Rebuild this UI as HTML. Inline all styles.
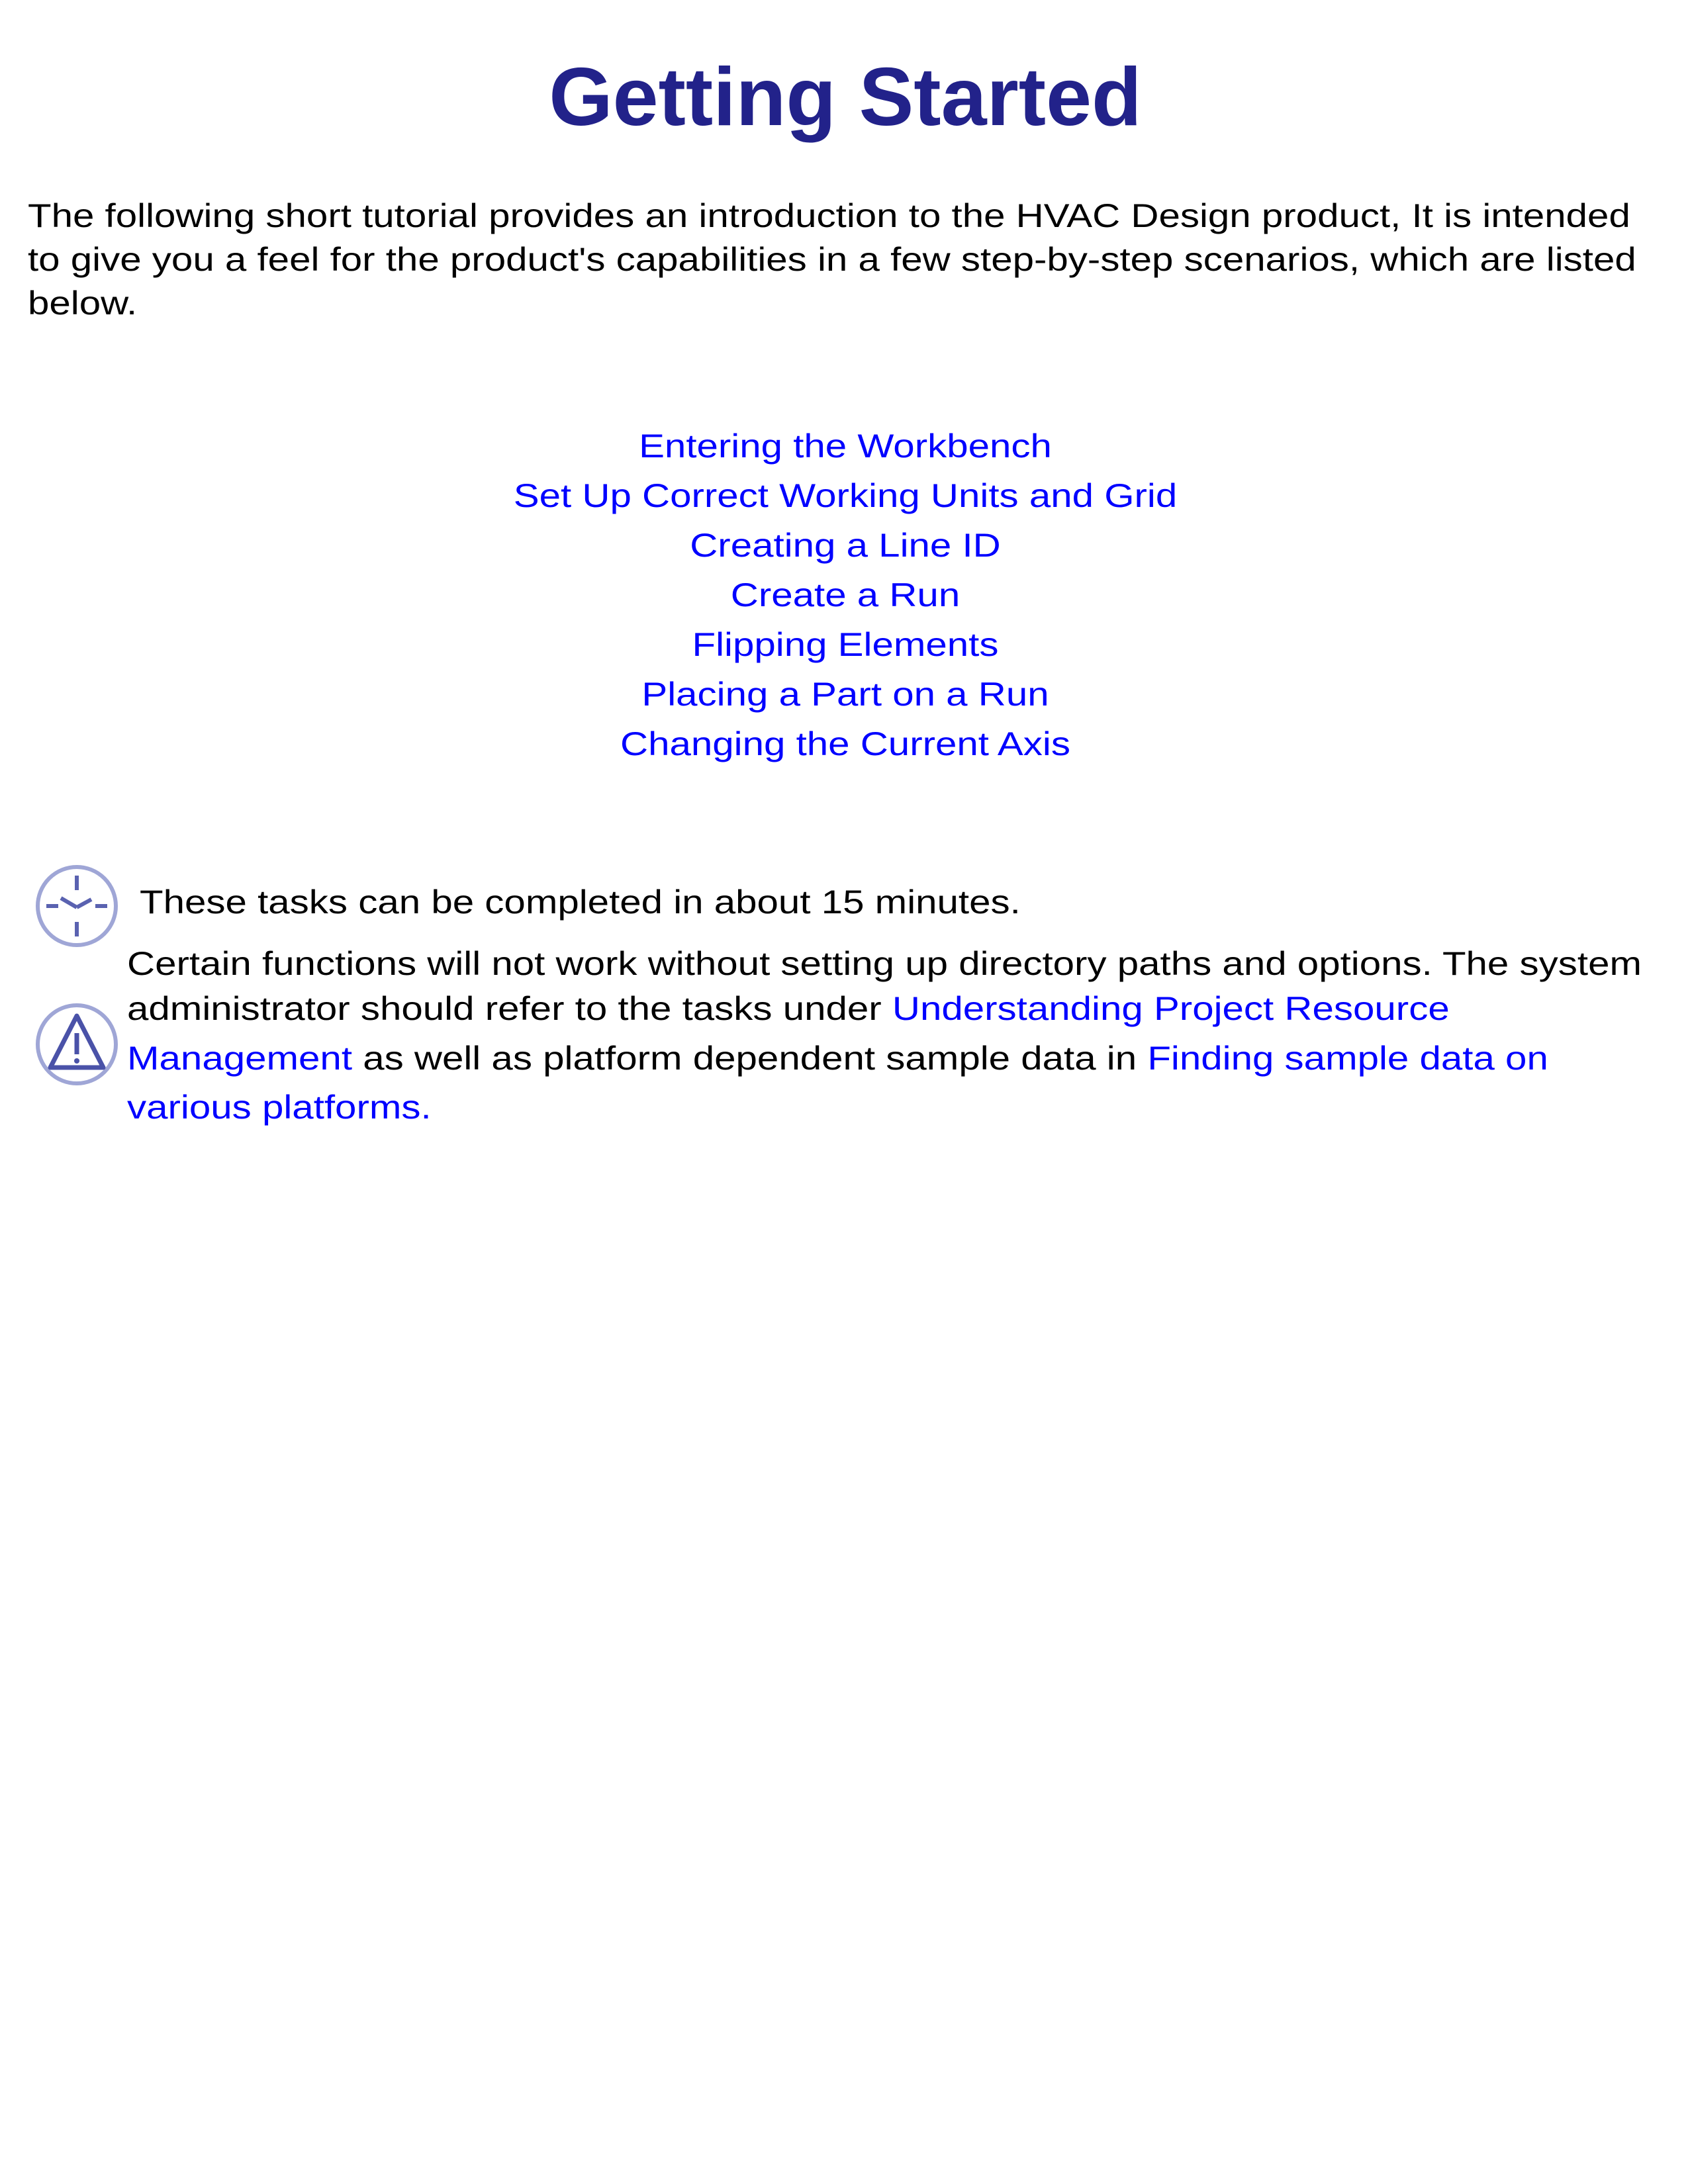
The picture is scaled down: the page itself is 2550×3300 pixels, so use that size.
<!DOCTYPE html>
<html><head><meta charset="utf-8"><style>
html,body{margin:0;padding:0;background:#fff;width:2550px;height:3300px;overflow:hidden}
body{position:relative;font-family:"Liberation Sans",Arial,sans-serif}
.l{position:absolute;white-space:nowrap;font-size:50px;line-height:50px;color:#000;transform:scaleX(1.165);transform-origin:0 0}
.c{left:0;width:2554px;text-align:center;color:#0000ff;transform-origin:1277px 0}
a{color:#0000ff;text-decoration:none}
</style></head><body>
<div class="l" style="left:0;width:2554px;text-align:center;top:85px;font-size:124px;line-height:124px;font-weight:bold;color:#22228a;transform:none">Getting Started</div>
<div class="l" style="left:42px;top:301px">The following short tutorial provides an introduction to the HVAC Design product, It is intended</div>
<div class="l" style="left:42px;top:367px">to give you a feel for the product's capabilities in a few step-by-step scenarios, which are listed</div>
<div class="l" style="left:42px;top:433px">below.</div>
<div class="l c" style="top:649px">Entering the Workbench</div>
<div class="l c" style="top:724px">Set Up Correct Working Units and Grid</div>
<div class="l c" style="top:799px">Creating a Line ID</div>
<div class="l c" style="top:874px">Create a Run</div>
<div class="l c" style="top:949px">Flipping Elements</div>
<div class="l c" style="top:1024px">Placing a Part on a Run</div>
<div class="l c" style="top:1099px">Changing the Current Axis</div>
<svg style="position:absolute;left:52px;top:1305px" width="128" height="128" viewBox="0 0 128 128">
<circle cx="64" cy="64" r="59" fill="#fff" stroke="#9fa6d6" stroke-width="6"/>
<g stroke="#5a62b0" stroke-width="6"><line x1="64" y1="18" x2="64" y2="40"/><line x1="64" y1="88" x2="64" y2="110"/><line x1="18" y1="64" x2="36" y2="64"/><line x1="92" y1="64" x2="110" y2="64"/><line x1="40" y1="52" x2="64" y2="66"/><line x1="64" y1="66" x2="86" y2="54"/></g>
</svg>
<div class="l" style="left:211px;top:1338px">These tasks can be completed in about 15 minutes.</div>
<svg style="position:absolute;left:52px;top:1513px" width="128" height="130" viewBox="0 0 128 130">
<circle cx="64" cy="65" r="59" fill="#fff" stroke="#9fa6d6" stroke-width="6"/>
<path d="M64 22 L104 100 L24 100 Z" fill="none" stroke="#4a52a8" stroke-width="7" stroke-linejoin="round"/>
<line x1="64" y1="48" x2="64" y2="80" stroke="#4a52a8" stroke-width="7"/>
<circle cx="64" cy="90" r="4" fill="#4a52a8"/>
</svg>
<div class="l" style="left:192px;top:1431px">Certain functions will not work without setting up directory paths and options. The system</div>
<div class="l" style="left:192px;top:1499px">administrator should refer to the tasks under <a>Understanding Project Resource</a></div>
<div class="l" style="left:192px;top:1574px"><a>Management</a> as well as platform dependent sample data in <a>Finding sample data on</a></div>
<div class="l" style="left:192px;top:1648px"><a>various platforms.</a></div>
</body></html>
